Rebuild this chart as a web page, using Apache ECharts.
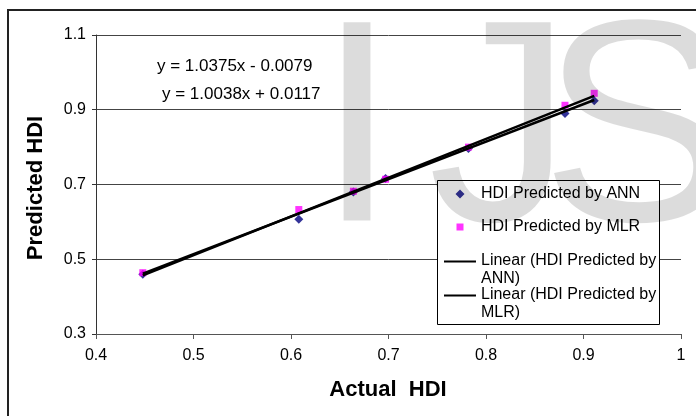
<!DOCTYPE html>
<html>
<head>
<meta charset="UTF-8">
<title>Actual vs Predicted HDI</title>
<script type="text/javascript" src="https://cdn.jsdelivr.net/npm/echarts@6/dist/echarts.min.js"></script>
</head>
<body style="margin:0;background:#fff;">

<div id="box" style="width:696px;height:416px;"></div>

<script type="text/javascript">

// data
var actualHDI = [0.448, 0.608, 0.664, 0.697, 0.782, 0.881, 0.911];
var annPred = [0.460, 0.607, 0.680, 0.716, 0.796, 0.890, 0.924];
var mlrPred = [0.464, 0.633, 0.682, 0.714, 0.800, 0.912, 0.944];
// trendline equations as printed on the chart: [ANN, MLR]
var trendSlope = [1.0038, 1.0375];
var trendIntercept = [0.0117, -0.0079];
var seriesNames = ['HDI Predicted by ANN', 'HDI Predicted by MLR'];
var trendNames = ['Linear (HDI Predicted by ANN)', 'Linear (HDI Predicted by MLR)'];
var xTicks = [0.4, 0.5, 0.6, 0.7, 0.8, 0.9, 1];
var yTicks = [0.3, 0.5, 0.7, 0.9, 1.1];

var font = 'Liberation Sans, Arial, sans-serif';

function pairs(xs, ys) {
  var out = [];
  for (var i = 0; i < xs.length; i++) out.push([xs[i], ys[i]]);
  return out;
}

// trendline spans the data's x range
var xLo = Math.min.apply(null, actualHDI);
var xHi = Math.max.apply(null, actualHDI);
function trend(k) {
  return [[xLo, trendSlope[k] * xLo + trendIntercept[k]],
          [xHi, trendSlope[k] * xHi + trendIntercept[k]]];
}
function eqText(k) {
  var b = trendIntercept[k];
  return 'y = ' + trendSlope[k].toFixed(4) + 'x ' + (b < 0 ? '- ' : '+ ') + Math.abs(b).toFixed(4);
}

var mychart = echarts.init(document.getElementById('box'));

var legendText = {fontFamily: font, fontSize: 16, color: '#000', lineHeight: 18};
// wrap the long trendline names like the original legend does
var twoLine = function (name) { return name.replace(/ by (ANN|MLR)\)$/, ' by\n$1)'); };
// icons: tiny corner dots pin the icon box so the marker sits where Excel puts it
var pin = ' M0,-0.5h0.01v0.01h-0.01Z M32,8.5h-0.01v-0.01h0.01Z';
var diamondIcon = 'path://M16,-0.5L20.5,4L16,8.5L11.5,4Z' + pin;
var squareIcon = 'path://M12.5,0.5H19.5V7.5H12.5Z' + pin;
var lineIcon = 'path://M0,0H32V2H0Z M0,19h0.01v0.01h-0.01Z';

// watermark laid over the whole chart as a faint dark veil (white -> #dcdcdc, black stays black)
var wm = {font: '288px "Liberation Sans", Arial, sans-serif', fill: 'rgba(0,0,0,0.137)',
          align: 'left', verticalAlign: 'middle', textAlign: 'left', textVerticalAlign: 'middle'};

var option = {
  animation: false,
  backgroundColor: '#fff',
  grid: {left: 96, right: 15, top: 35, bottom: 82},
  xAxis: {
    type: 'value',
    min: xTicks[0], max: xTicks[xTicks.length - 1], interval: 0.1,
    axisLine: {lineStyle: {color: '#555', width: 1}},
    axisTick: {show: true, length: 5, lineStyle: {color: '#555'}},
    axisLabel: {margin: 14, color: '#000', fontFamily: font, fontSize: 16},
    splitLine: {show: false}
  },
  yAxis: {
    type: 'value',
    min: yTicks[0], max: yTicks[yTicks.length - 1], interval: 0.2,
    axisLine: {show: true, lineStyle: {color: '#333', width: 1}},
    axisTick: {show: true, length: 4, lineStyle: {color: '#333'}},
    axisLabel: {margin: 10, color: '#000', fontFamily: font, fontSize: 16},
    splitLine: {show: true, lineStyle: {color: '#444', width: 1}}
  },
  legend: [
    {data: [{name: seriesNames[0], icon: diamondIcon}], left: 444, top: 185, padding: 0,
     itemWidth: 32, itemHeight: 9, selectedMode: false, textStyle: legendText},
    {data: [{name: seriesNames[1], icon: squareIcon}], left: 444, top: 218, padding: 0,
     itemWidth: 32, itemHeight: 9, selectedMode: false, textStyle: legendText},
    {data: [{name: trendNames[0], icon: lineIcon}], left: 444, top: 252, padding: 0,
     itemWidth: 32, itemHeight: 19, selectedMode: false, formatter: twoLine, textStyle: legendText,
     itemStyle: {borderWidth: 0}},
    {data: [{name: trendNames[1], icon: lineIcon}], left: 444, top: 286, padding: 0,
     itemWidth: 32, itemHeight: 19, selectedMode: false, formatter: twoLine, textStyle: legendText,
     itemStyle: {borderWidth: 0}}
  ],
  graphic: {elements: [
    // legend box: white, hides the gridline behind it
    {type: 'rect', z: 3, silent: true, shape: {x: 437.5, y: 180.5, width: 222, height: 144},
     style: {fill: '#fff', stroke: '#000', lineWidth: 1}},
    // outer frame
    {type: 'rect', z: 10, silent: true, shape: {x: 8, y: 10, width: 700, height: 420},
     style: {fill: 'none', stroke: '#222', lineWidth: 2}},
    // trendline equations
    {type: 'text', x: 157, y: 66,
     style: {text: eqText(1), font: '17px "Liberation Sans", Arial, sans-serif', fill: '#000',
             align: 'left', verticalAlign: 'middle', textAlign: 'left', textVerticalAlign: 'middle'}},
    {type: 'text', x: 162, y: 94,
     style: {text: eqText(0), font: '17px "Liberation Sans", Arial, sans-serif', fill: '#000',
             align: 'left', verticalAlign: 'middle', textAlign: 'left', textVerticalAlign: 'middle'}},
    // axis titles
    {type: 'text', x: 388, y: 390,
     style: {text: 'Actual  HDI', font: 'bold 22px "Liberation Sans", Arial, sans-serif', fill: '#000',
             align: 'center', verticalAlign: 'middle', textAlign: 'center', textVerticalAlign: 'middle'}},
    {type: 'text', x: 36, y: 188, rotation: Math.PI / 2,
     style: {text: 'Predicted HDI', font: 'bold 22px "Liberation Sans", Arial, sans-serif', fill: '#000',
             align: 'center', verticalAlign: 'middle', textAlign: 'center', textVerticalAlign: 'middle'}},
    // watermark letters
    {type: 'text', x: 317, y: 141, z: 100, silent: true, style: echarts.util.extend({text: 'I'}, wm)},
    {type: 'text', x: 428, y: 141, z: 100, silent: true, style: echarts.util.extend({text: 'J'}, wm)},
    {type: 'text', x: 541, y: 141, z: 100, silent: true, style: echarts.util.extend({text: 'S'}, wm)}
  ]},
  series: [
    {name: seriesNames[0], type: 'scatter', symbol: 'diamond', symbolSize: 9,
     itemStyle: {color: '#000080'}, data: pairs(actualHDI, annPred)},
    {name: seriesNames[1], type: 'scatter', symbol: 'rect', symbolSize: 7,
     itemStyle: {color: '#ff00ff'}, data: pairs(actualHDI, mlrPred)},
    {name: trendNames[0], type: 'line', symbol: 'none', silent: true,
     lineStyle: {color: '#000', width: 2.5}, itemStyle: {color: '#000'}, data: trend(0)},
    {name: trendNames[1], type: 'line', symbol: 'none', silent: true,
     lineStyle: {color: '#000', width: 2.5}, itemStyle: {color: '#000'}, data: trend(1)}
  ]
};

mychart.setOption(option);
</script>
</body>
</html>
